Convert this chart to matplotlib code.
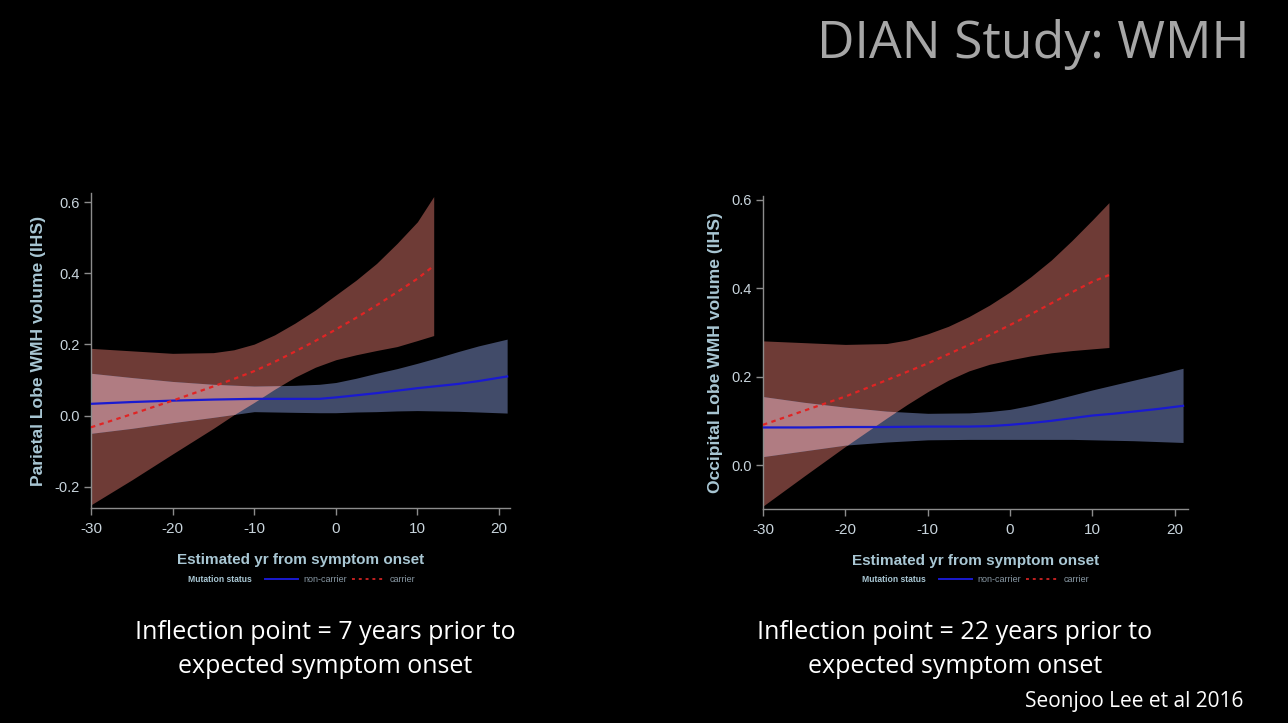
import numpy as np
import matplotlib
matplotlib.use("Agg")
import matplotlib.pyplot as plt
from matplotlib.lines import Line2D

# ---------------- data ----------------
# Parietal (left)
par_red_x = [-30, -25, -20, -15, -12.5, -10, -7.5, -5, -2.5, 0, 2.5, 5, 7.5, 10, 12]
par_red_up = [0.189, 0.182, 0.175, 0.177, 0.185, 0.201, 0.227, 0.260, 0.297, 0.339,
              0.381, 0.428, 0.484, 0.545, 0.616]
par_red_lo = [-0.251, -0.181, -0.108, -0.036, 0.002, 0.037, 0.074, 0.108, 0.136, 0.157,
              0.171, 0.183, 0.194, 0.211, 0.225]
par_red_mid = [-0.033, 0.004, 0.042, 0.082, 0.103, 0.125, 0.151, 0.180, 0.210, 0.242,
               0.275, 0.310, 0.347, 0.385, 0.421]

par_blue_x = [-30, -25, -20, -15, -10, -5, -2, 0, 2.5, 5, 7.5, 10, 12.5, 15, 17.5, 21]
par_blue_up = [0.119, 0.107, 0.096, 0.088, 0.083, 0.085, 0.088, 0.093, 0.105, 0.119,
               0.132, 0.147, 0.163, 0.180, 0.196, 0.215]
par_blue_lo = [-0.050, -0.036, -0.020, -0.005, 0.011, 0.009, 0.008, 0.008, 0.010, 0.011,
               0.013, 0.014, 0.013, 0.012, 0.010, 0.007]
par_blue_mid = [0.033, 0.038, 0.042, 0.045, 0.047, 0.047, 0.047, 0.051, 0.057, 0.063,
                0.070, 0.077, 0.083, 0.089, 0.097, 0.110]

# Occipital (right)
occ_red_x = [-30, -25, -20, -15, -12.5, -10, -7.5, -5, -2.5, 0, 2.5, 5, 7.5, 10, 12]
occ_red_up = [0.281, 0.277, 0.273, 0.275, 0.283, 0.297, 0.314, 0.336, 0.362, 0.392,
              0.426, 0.464, 0.508, 0.555, 0.594]
occ_red_lo = [-0.093, -0.025, 0.042, 0.106, 0.137, 0.166, 0.192, 0.213, 0.228, 0.238,
              0.247, 0.254, 0.259, 0.263, 0.266]
occ_red_mid = [0.091, 0.123, 0.155, 0.192, 0.211, 0.230, 0.251, 0.272, 0.294, 0.317,
               0.341, 0.366, 0.391, 0.415, 0.430]

occ_blue_x = [-30, -25, -20, -15, -10, -5, -2.5, 0, 2.5, 5, 7.5, 10, 12.5, 15, 18, 21]
occ_blue_up = [0.155, 0.142, 0.131, 0.122, 0.117, 0.118, 0.121, 0.126, 0.135, 0.146,
               0.158, 0.170, 0.181, 0.192, 0.205, 0.219]
occ_blue_lo = [0.019, 0.032, 0.045, 0.052, 0.057, 0.058, 0.058, 0.058, 0.058, 0.058,
               0.058, 0.057, 0.056, 0.055, 0.053, 0.051]
occ_blue_mid = [0.085, 0.085, 0.086, 0.086, 0.087, 0.087, 0.088, 0.091, 0.095, 0.100,
                0.106, 0.112, 0.116, 0.121, 0.127, 0.134]

xticks = [-30, -20, -10, 0, 10, 20]
par_yticks = [-0.2, 0.0, 0.2, 0.4, 0.6]
occ_yticks = [0.0, 0.2, 0.4, 0.6]

title = "DIAN Study: WMH"
xlabel = "Estimated yr from symptom onset"
par_ylabel = "Parietal Lobe WMH volume (IHS)"
occ_ylabel = "Occipital Lobe WMH volume (IHS)"
par_note = ["Inflection point = 7 years prior to", "expected symptom onset"]
occ_note = ["Inflection point = 22 years prior to", "expected symptom onset"]
credit = "Seonjoo Lee et al 2016"

# ---------------- styling ----------------
W, H = 1288, 723
BG = "black"
RED_FILL = "#6e3b36"
BLUE_FILL = "#414b69"
OVERLAP = "#b07c82"
BLUE_LINE = "#1a1ad0"
RED_LINE = "#e02424"
AX_COL = "#8c8c8c"
TICK_TXT = "#c8d4dc"
LAB_COL = "#a9c7d4"

fig = plt.figure(figsize=(W / 100, H / 100), dpi=100, facecolor=BG)


def px_axes(x0, y0, x1, y1):
    return fig.add_axes([x0 / W, 1 - y1 / H, (x1 - x0) / W, (y1 - y0) / H])


def draw_panel(ax, rx, rmid, rup, rlo, bx, bmid, bup, blo, xlim, ylim, yticks, ylabel):
    ax.set_facecolor(BG)
    ax.fill_between(rx, rlo, rup, color=RED_FILL, lw=0, zorder=1)
    ax.fill_between(bx, blo, bup, color=BLUE_FILL, lw=0, zorder=1)
    # overlap region of the two bands
    xs = np.linspace(max(rx[0], bx[0]), min(rx[-1], bx[-1]), 600)
    ru = np.interp(xs, rx, rup)
    rl = np.interp(xs, rx, rlo)
    bu = np.interp(xs, bx, bup)
    bl = np.interp(xs, bx, blo)
    top = np.minimum(ru, bu)
    bot = np.maximum(rl, bl)
    ax.fill_between(xs, bot, top, where=top > bot, color=OVERLAP, lw=0, zorder=2)
    ax.plot(bx, bmid, color=BLUE_LINE, lw=1.6, zorder=3)
    ax.plot(rx, rmid, color=RED_LINE, lw=1.6, ls=(0, (2, 2)), zorder=4)
    ax.set_xlim(*xlim)
    ax.set_ylim(*ylim)
    ax.set_xticks(xticks)
    ax.set_xticklabels([str(t) for t in xticks])
    ax.set_yticks(yticks)
    ax.set_yticklabels([f"{t:.1f}" for t in yticks])
    for s in ["top", "right"]:
        ax.spines[s].set_visible(False)
    for s in ["left", "bottom"]:
        ax.spines[s].set_color(AX_COL)
        ax.spines[s].set_linewidth(1.0)
    ax.tick_params(axis="both", colors=AX_COL, length=5, width=1.0, direction="out")
    ax.tick_params(axis="x", labelcolor=TICK_TXT, labelsize=11, pad=5)
    ax.tick_params(axis="y", labelcolor=TICK_TXT, labelsize=10.5, pad=3)
    for lab in ax.get_xticklabels() + ax.get_yticklabels():
        lab.set_family("Liberation Sans")
    ax.set_xlabel(xlabel, color=LAB_COL, fontsize=11, fontweight="bold",
                  family="Liberation Sans", labelpad=12)
    ax.set_ylabel(ylabel, color=LAB_COL, fontsize=12.6, fontweight="bold",
                  family="Liberation Sans", labelpad=6)


axL = px_axes(91, 193, 510, 508)
draw_panel(axL, par_red_x, par_red_mid, par_red_up, par_red_lo,
           par_blue_x, par_blue_mid, par_blue_up, par_blue_lo,
           (-30, 21.35), (-0.26, 0.626), par_yticks, par_ylabel)

axR = px_axes(763, 196, 1188, 509)
draw_panel(axR, occ_red_x, occ_red_mid, occ_red_up, occ_red_lo,
           occ_blue_x, occ_blue_mid, occ_blue_up, occ_blue_lo,
           (-30, 21.6), (-0.0996, 0.609), occ_yticks, occ_ylabel)


# legends (Stata style, drawn in figure pixels)
def legend_row(x0, y):
    fy = 1 - y / H
    fig.text(x0 / W, fy, "Mutation status", color=LAB_COL, fontsize=6.2,
             fontweight="bold", family="Liberation Sans", va="center", ha="left")
    fig.add_artist(Line2D([(x0 + 77) / W, (x0 + 110) / W], [fy, fy],
                          color=BLUE_LINE, lw=1.4))
    fig.text((x0 + 115) / W, fy, "non-carrier", color="#8a9aa6", fontsize=6.5,
             family="Liberation Sans", va="center", ha="left")
    fig.add_artist(Line2D([(x0 + 164) / W, (x0 + 195) / W], [fy, fy],
                          color="#c02020", lw=1.4, ls=(0, (1.5, 2))))
    fig.text((x0 + 202) / W, fy, "carrier", color="#8a9aa6", fontsize=6.5,
             family="Liberation Sans", va="center", ha="left")


legend_row(188, 579)
legend_row(862, 579)

# slide texts
fig.text(1250 / W, 1 - 58 / H, title, color="#a6a6a6", fontsize=37.3,
         family="Open Sans", ha="right", va="baseline")
for note, cx in ((par_note, 325), (occ_note, 955)):
    fig.text(cx / W, 1 - 639 / H, note[0], color="white", fontsize=18,
             family="Open Sans", ha="center", va="baseline")
    fig.text(cx / W, 1 - 673 / H, note[1], color="white", fontsize=18,
             family="Open Sans", ha="center", va="baseline")
fig.text(1243 / W, 1 - 707 / H, credit, color="white", fontsize=15,
         family="Open Sans", ha="right", va="baseline")

fig.savefig("out.png", dpi=100, facecolor=BG)
